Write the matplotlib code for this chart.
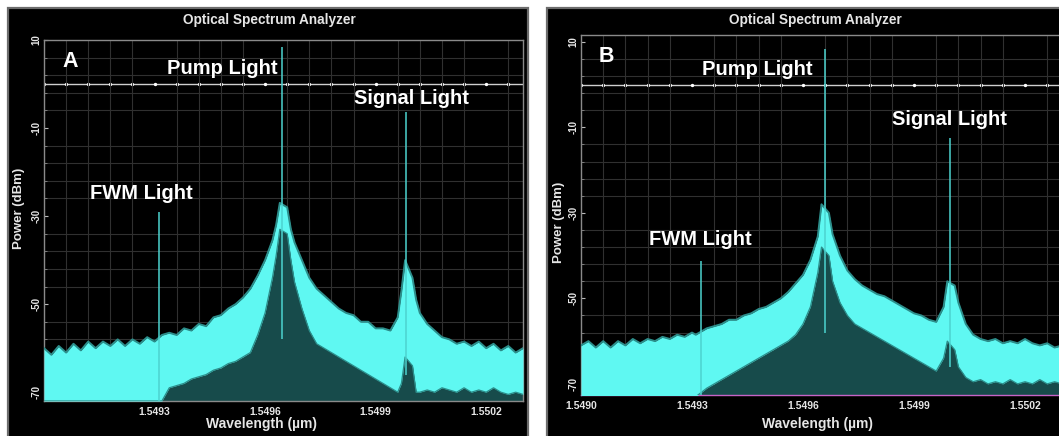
import numpy as np
import matplotlib
matplotlib.use("Agg")
import matplotlib.pyplot as plt
from matplotlib.patches import Rectangle

plt.rcParams['font.family'] = ['Liberation Sans', 'DejaVu Sans']
plt.rcParams['font.weight'] = 'bold'
plt.rcParams['axes.unicode_minus'] = False

# ---- panel A: spectrum envelope (um, dBm) ----
wl_a = [1.54900, 1.54902, 1.54904, 1.54906, 1.54908, 1.54910, 1.54912, 1.54914,
        1.54916, 1.54918, 1.54920, 1.54922, 1.54924, 1.54926, 1.54928, 1.54930,
        1.54932, 1.54934, 1.54936, 1.54938, 1.54940, 1.54942, 1.54944, 1.54946,
        1.54948, 1.54950, 1.54952, 1.54954, 1.54956, 1.54958, 1.54960, 1.54962,
        1.54963, 1.54964, 1.54966, 1.54967, 1.54968, 1.54970, 1.54972, 1.54974,
        1.54976, 1.54978, 1.54980, 1.54982, 1.54984, 1.54986, 1.54988, 1.54990,
        1.54992, 1.54994, 1.54996, 1.54997, 1.54998, 1.55000, 1.55001, 1.55002,
        1.55004, 1.55006, 1.55008, 1.55010, 1.55012, 1.55014, 1.55016, 1.55018,
        1.55020, 1.55022, 1.55024, 1.55026, 1.55028, 1.55030]
upper_a = [-60, -61.5, -59.5, -61, -59, -60.5, -58.5, -60,
           -58.5, -59.5, -58, -59.5, -58, -59, -57.5, -58.5,
           -57, -56.5, -57, -55.5, -56, -54.5, -55, -53,
           -52.5, -51, -50, -48.5, -46.5, -43.5, -40, -35.5,
           -32, -27, -28, -33, -36, -40, -44, -46.5,
           -48, -49.5, -51, -52, -52.5, -54, -54, -55.5,
           -55.5, -56, -53, -47, -40, -44, -49, -52,
           -54.5, -56, -57.5, -58, -59, -58.5, -59.5, -58.5,
           -60, -59, -60.5, -59.5, -61, -60]
lower_a = [-72, -72, -72, -72, -72, -72, -72, -72,
           -72, -72, -72, -72, -72, -72, -72, -72,
           -72, -69, -68.5, -68, -67, -66.5, -66, -65,
           -64.5, -63.5, -63, -62, -61, -57, -52, -44,
           -39, -33, -34, -40, -45, -51, -56, -59,
           -60, -61, -62, -63, -64, -65, -66, -67,
           -68, -69, -70, -68, -62, -64, -70, -70,
           -69.5, -70, -69, -69.5, -70, -69, -70, -69.5,
           -70, -69, -70, -70.5, -70, -70.5]
peak_wl_a = [1.549311, 1.549647, 1.549983]
peak_top_a = [-29.1, 8.4, -6.4]
peak_base_a = [-72, -58, -66]

# ---- panel B ----
wl_b = [1.54900, 1.54902, 1.54904, 1.54906, 1.54908, 1.54910, 1.54912, 1.54914,
        1.54916, 1.54918, 1.54920, 1.54922, 1.54924, 1.54926, 1.54928, 1.54930,
        1.54931, 1.54934, 1.54936, 1.54938, 1.54940, 1.54942, 1.54944, 1.54946,
        1.54948, 1.54950, 1.54952, 1.54954, 1.54956, 1.54958, 1.54960, 1.54962,
        1.54964, 1.54965, 1.54967, 1.54968, 1.54970, 1.54972, 1.54974, 1.54976,
        1.54978, 1.54980, 1.54982, 1.54984, 1.54986, 1.54988, 1.54990, 1.54992,
        1.54994, 1.54996, 1.54998, 1.54999, 1.55001, 1.55002, 1.55004, 1.55006,
        1.55008, 1.55010, 1.55012, 1.55014, 1.55016, 1.55018, 1.55020, 1.55022,
        1.55024, 1.55026, 1.55028, 1.55030]
upper_b = [-61, -60, -61.5, -60, -61.5, -60, -61, -59.5,
           -60.5, -59.5, -60, -59, -59.5, -58.5, -59, -58,
           -58.5, -57, -56.5, -56, -55, -55, -54, -53.5,
           -52.5, -52, -51, -50, -48.5, -46.5, -44.5, -41,
           -35.5, -28, -30, -35, -40, -43.5, -45.5, -47,
           -48, -49, -49.5, -50.5, -51.5, -52.5, -53.5, -54,
           -55, -55.5, -52, -46, -47, -51, -56, -58.5,
           -59.5, -60, -59.5, -60.5, -60, -60.5, -59.5, -60.5,
           -61, -60.5, -61.5, -61]
lower_b = [-73, -73, -73, -73, -73, -73, -73, -73,
           -73, -73, -73, -73, -73, -73, -73, -73,
           -73, -71, -70, -69, -68, -67, -66, -65,
           -64, -63, -62, -61, -60, -58.5, -56, -52,
           -44, -38, -40, -46, -51, -54, -56, -57,
           -58, -59, -60, -61, -62, -63, -64, -65,
           -66, -67, -64, -60, -62, -66, -68.5, -69.5,
           -69, -70, -69.5, -70, -69, -70, -69.5, -70,
           -69, -70, -69.5, -70]
peak_wl_b = [1.549323, 1.549659, 1.549997]
peak_top_b = [-41.2, 8.4, -12.5]
peak_base_b = [-73, -58, -66]

label_names = ["FWM Light", "Pump Light", "Signal Light"]
label_wl_a = [1.549265, 1.549484, 1.549996]
label_db_a = [-24.8, 3.6, -3.2]
label_wl_b = [1.549322, 1.549476, 1.549997]
label_db_b = [-36.3, 3.45, -8.25]

x_ticks_a = [1.5493, 1.5496, 1.5499, 1.5502]
x_ticks_b = [1.5490, 1.5493, 1.5496, 1.5499, 1.5502]
y_ticks = [10, -10, -30, -50, -70]
x_grid = np.arange(1.5490, 1.55031, 0.00006)
y_grid = np.arange(10, -71, -4)

W, H = 1059, 436
fig = plt.figure(figsize=(W / 100, H / 100), dpi=100, facecolor='white')

CYAN = '#5ff8f2'
EDGE = '#2c8e8b'
DARK = '#174b4b'
TXT = '#e6e6e6'


def px(x, y):
    return x / W, 1 - y / H


# black instrument panels, kept behind the axes
for x0, x1 in [(8, 528), (547, 1084)]:
    fig.patches.append(Rectangle((x0 / W, -0.02), (x1 - x0) / W, 1 - 8 / H + 0.02,
                                 transform=fig.transFigure, facecolor='black',
                                 edgecolor='#6c6c6c', lw=1.6, zorder=-5))


def draw(ax, wl, upper, lower, pwl, ptop, pbase, ylim, xticks, lwl, ldb, letter, letter_pos,
         bottom_color):
    ax.set_facecolor('black')
    ax.set_xlim(1.5490, 1.5503)
    ax.set_ylim(*ylim)
    ax.set_xticks(x_grid, minor=True)
    ax.set_yticks(y_grid, minor=True)
    ax.grid(which='minor', color='#303030', lw=0.8)
    ax.axhline(0, color='#cfcfcf', lw=1.0, zorder=1)
    ax.plot(x_grid, np.zeros_like(x_grid), ls='none', marker='o', ms=1.4, color='white', zorder=1)

    ax.fill_between(wl, ylim[0], lower, color=DARK, lw=0, zorder=2)
    ax.fill_between(wl, lower, upper, color=CYAN, lw=0, zorder=3)
    ax.plot(wl, upper, color=EDGE, lw=1.4, zorder=3)
    ax.plot(wl, lower, color=EDGE, lw=0.9, zorder=3)
    ax.vlines(pwl, pbase, ptop, color='#4cd3cf', lw=1.1, zorder=4)

    ax.set_xticks(xticks)
    ax.set_xticklabels([f"{t:.4f}" for t in xticks], fontsize=7.5, color=TXT)
    ax.set_yticks(y_ticks)
    ax.set_yticklabels([str(t) for t in y_ticks], fontsize=7, color=TXT,
                       rotation=90, va='center')
    ax.tick_params(axis='x', which='both', length=0, pad=4)
    ax.tick_params(axis='y', which='major', direction='in', length=3, color='#bbbbbb', pad=2)
    ax.tick_params(axis='y', which='minor', direction='in', length=2, color='#888888')
    for s in ax.spines.values():
        s.set_color('#8a8a8a')
        s.set_linewidth(1.0)
    ax.spines['bottom'].set_color(bottom_color)

    for name, x, y in zip(label_names, lwl, ldb):
        ax.text(x, y, name, color='white', fontsize=14.5, ha='center', va='center', zorder=5)
    ax.text(letter_pos[0], letter_pos[1], letter, color='white', fontsize=15.5,
            ha='center', va='center', zorder=5)


ax_a = fig.add_axes([44 / W, 35 / H, 479 / W, 361 / H])
draw(ax_a, wl_a, upper_a, lower_a, peak_wl_a, peak_top_a, peak_base_a, (-72, 10),
     x_ticks_a, label_wl_a, label_db_a, 'A', (1.54907, 5.2), '#8a8a8a')

ax_b = fig.add_axes([581 / W, 41 / H, 481 / W, 360 / H])
draw(ax_b, wl_b, upper_b, lower_b, peak_wl_b, peak_top_b, peak_base_b, (-72.6, 11.6),
     x_ticks_b, label_wl_b, label_db_b, 'B', (1.549068, 6.5), '#c663c6')

for tx, xl, yl, yly in [(269, 261, 19, 208), (815, 817, 559, 222)]:
    fig.text(*px(tx, 20), 'Optical Spectrum Analyzer', color=TXT, fontsize=9.8,
             ha='center', va='center')
    fig.text(*px(xl, 424), 'Wavelength (µm)', color=TXT, fontsize=10,
             ha='center', va='center')
    fig.text(*px(yl, yly), 'Power (dBm)', color=TXT, fontsize=9.5, rotation=90,
             ha='center', va='center')

fig.savefig('out.png', dpi=100, facecolor='white')
